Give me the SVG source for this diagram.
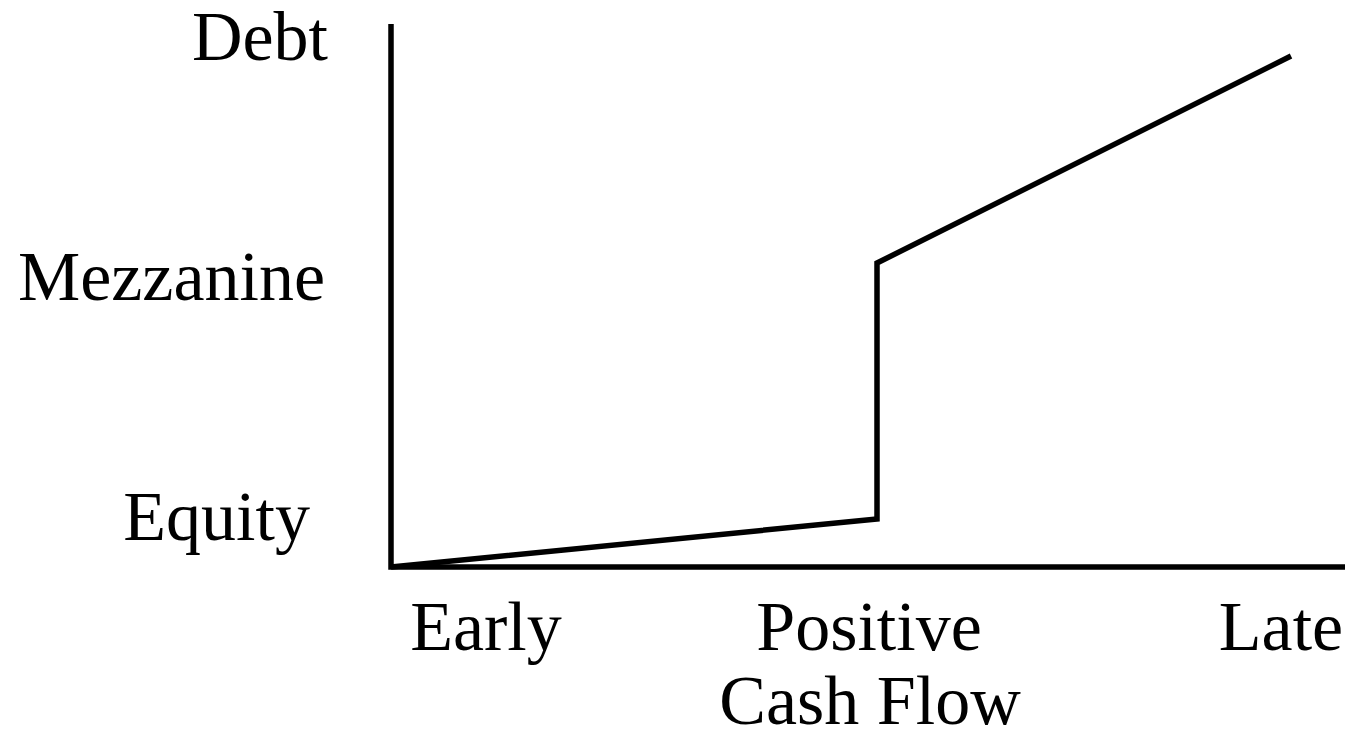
<svg xmlns="http://www.w3.org/2000/svg" width="1345" height="733" viewBox="0 0 1345 733">
<style>
text{font-family:"Liberation Serif","Times New Roman",serif;font-size:70px;fill:#000}
.ax{fill:none;stroke:#000;stroke-width:5.5}
.ln{fill:none;stroke:#000;stroke-width:5.5;stroke-linejoin:miter}
</style>
<rect width="1345" height="733" fill="#fff"/>
<g id="axes">
<path class="ax" d="M391,24 V567 H1345"/>
</g>
<g id="connectors">
<path class="ln" d="M391,567 L877,519 V263 L1291,56"/>
</g>
<g id="label-debt"><text x="328" y="60" text-anchor="end">Debt</text></g>
<g id="label-mezzanine"><text x="325" y="300" text-anchor="end">Mezzanine</text></g>
<g id="label-equity"><text x="310" y="540" text-anchor="end">Equity</text></g>
<g id="label-early"><text x="486" y="650" text-anchor="middle">Early</text></g>
<g id="label-positive"><text x="869" y="650" text-anchor="middle">Positive</text><text x="870" y="724" text-anchor="middle">Cash Flow</text></g>
<g id="label-late"><text x="1281" y="650" text-anchor="middle">Late</text></g>
</svg>
